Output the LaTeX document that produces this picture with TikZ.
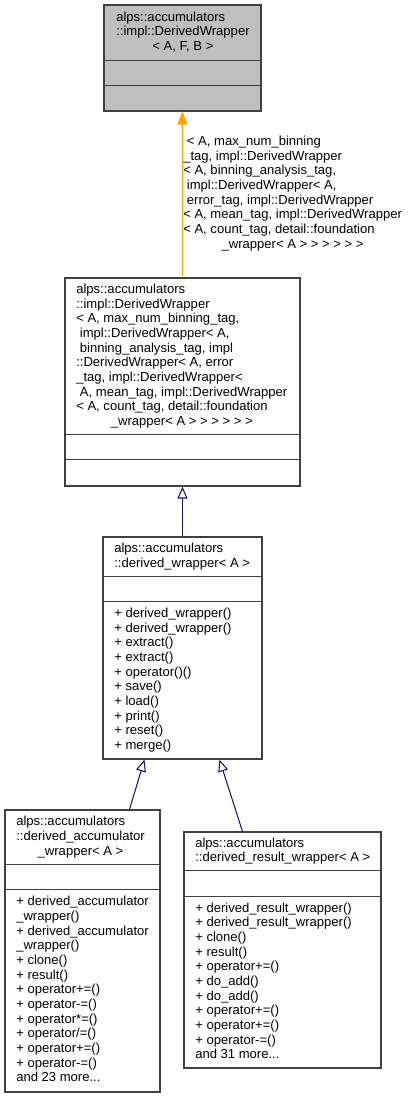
\documentclass[tikz,border=0pt]{standalone}
\usepackage{fontspec}
\setmainfont{Liberation Sans}
\usetikzlibrary{arrows.meta,calc}
\definecolor{edgeblue}{HTML}{191970}
\definecolor{edgeorange}{HTML}{FFA500}
\definecolor{boxgray}{HTML}{BFBFBF}
\definecolor{boxline}{HTML}{404040}
\begin{document}
\begin{tikzpicture}[x=0.75pt,y=-0.75pt,
  umlbox/.style={draw=boxline, line width=0.8pt, fill=white, inner sep=0pt},
  divider/.style={draw=boxline, line width=0.8pt},
  txt/.style={anchor=west, inner sep=0pt, font=\fontsize{9.8}{11}\selectfont},
  inh/.style={draw=edgeblue, line width=0.8pt, -{Triangle[open,length=9pt,width=7.5pt,fill=white]}},
  tmpl/.style={draw=edgeorange, line width=0.9pt, -{Triangle[length=9.75pt,width=7.5pt,fill=edgeorange]}}]
\useasboundingbox (0,0) rectangle (409,1097);

% boxes
\node[umlbox, fill=boxgray, minimum width=117.75pt, minimum height=79.5pt] (b1) at (182.5,58) {};
\node[umlbox, minimum width=176.25pt, minimum height=156pt] (b2) at (182.5,382) {};
\node[umlbox, minimum width=119.25pt, minimum height=166.5pt] (b3) at (182.5,648) {};
\node[umlbox, minimum width=116.25pt, minimum height=211.5pt] (b4) at (82.5,951) {};
\node[umlbox, minimum width=147.75pt, minimum height=177pt] (b5) at (282.5,950) {};

% dividers
\draw[divider] ($(b1.north west)+(0,56)$) -- ($(b1.north east)+(0,56)$);
\draw[divider] ($(b1.north west)+(0,81)$) -- ($(b1.north east)+(0,81)$);
\draw[divider] ($(b2.north west)+(0,157)$) -- ($(b2.north east)+(0,157)$);
\draw[divider] ($(b2.north west)+(0,182)$) -- ($(b2.north east)+(0,182)$);
\draw[divider] ($(b3.north west)+(0,40)$) -- ($(b3.north east)+(0,40)$);
\draw[divider] ($(b3.north west)+(0,65)$) -- ($(b3.north east)+(0,65)$);
\draw[divider] ($(b4.north west)+(0,55)$) -- ($(b4.north east)+(0,55)$);
\draw[divider] ($(b4.north west)+(0,80)$) -- ($(b4.north east)+(0,80)$);
\draw[divider] ($(b5.north west)+(0,39)$) -- ($(b5.north east)+(0,39)$);
\draw[divider] ($(b5.north west)+(0,65)$) -- ($(b5.north east)+(0,65)$);

% texts
\node[txt] (t1) at (116,33) {\begin{tabular}{@{}l@{}}
alps::accumulators\\
::impl::DerivedWrapper\\
\multicolumn{1}{@{}c@{}}{< A, F, B >}
\end{tabular}};

\node[txt] (t2) at (76,356.5) {\begin{tabular}{@{}l@{}}
alps::accumulators\\
::impl::DerivedWrapper\\
< A, max\_num\_binning\_tag,\\
\ impl::DerivedWrapper< A,\\
\ binning\_analysis\_tag, impl\\
::DerivedWrapper< A, error\\
\_tag, impl::DerivedWrapper<\\
\ A, mean\_tag, impl::DerivedWrapper\\
< A, count\_tag, detail::foundation\\
\multicolumn{1}{@{}c@{}}{\_wrapper< A > > > > > >}
\end{tabular}};

\node[txt] (t3) at (114,557) {\begin{tabular}{@{}l@{}}
alps::accumulators\\
\multicolumn{1}{@{}c@{}}{::derived\_wrapper< A >}
\end{tabular}};

\node[txt] (m3) at (114,680.5) {\begin{tabular}{@{}l@{}}
+ derived\_wrapper()\\
+ derived\_wrapper()\\
+ extract()\\
+ extract()\\
+ operator()()\\
+ save()\\
+ load()\\
+ print()\\
+ reset()\\
+ merge()
\end{tabular}};

\node[txt] (t4) at (16,837.5) {\begin{tabular}{@{}l@{}}
alps::accumulators\\
::derived\_accumulator\\
\multicolumn{1}{@{}c@{}}{\_wrapper< A >}
\end{tabular}};

\node[txt] (m4) at (16,991) {\begin{tabular}{@{}l@{}}
+ derived\_accumulator\\
\_wrapper()\\
+ derived\_accumulator\\
\_wrapper()\\
+ clone()\\
+ result()\\
+ operator+=()\\
+ operator-=()\\
+ operator*=()\\
+ operator/=()\\
+ operator+=()\\
+ operator-=()\\
and 23 more...
\end{tabular}};

\node[txt] (t5) at (195,851.5) {\begin{tabular}{@{}l@{}}
alps::accumulators\\
\multicolumn{1}{@{}c@{}}{::derived\_result\_wrapper< A >}
\end{tabular}};

\node[txt] (m5) at (195,982.5) {\begin{tabular}{@{}l@{}}
+ derived\_result\_wrapper()\\
+ derived\_result\_wrapper()\\
+ clone()\\
+ result()\\
+ operator+=()\\
+ do\_add()\\
+ do\_add()\\
+ operator+=()\\
+ operator+=()\\
+ operator-=()\\
and 31 more...
\end{tabular}};

% connectors
\draw[tmpl] (b2.north) -- (b1.south);
\node[txt] (lbl) at (183,194) {\begin{tabular}{@{}l@{}}
\ < A, max\_num\_binning\\
\_tag, impl::DerivedWrapper\\
< A, binning\_analysis\_tag,\\
\ impl::DerivedWrapper< A,\\
\ error\_tag, impl::DerivedWrapper\\
< A, mean\_tag, impl::DerivedWrapper\\
< A, count\_tag, detail::foundation\\
\multicolumn{1}{@{}c@{}}{\_wrapper< A > > > > > >}
\end{tabular}};

\draw[inh] (b3.north) -- (b2.south);
\draw[inh] ($(b4.north west)+(125,0)$) -- ($(b3.south west)+(42,0)$);
\draw[inh] ($(b5.north west)+(59,0)$) -- ($(b3.south west)+(117,0)$);
\end{tikzpicture}
\end{document}
